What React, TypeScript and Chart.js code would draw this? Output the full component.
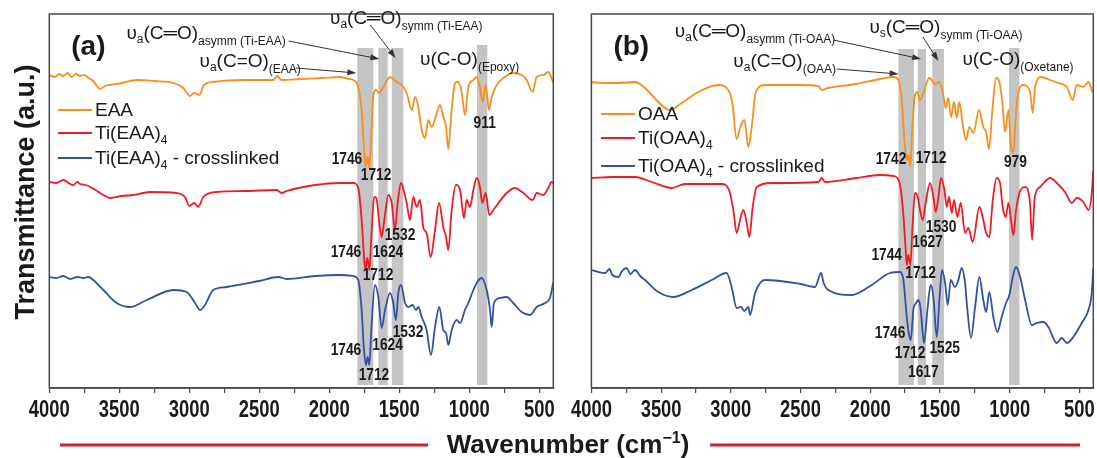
import { useEffect, useRef } from "react";
import { Chart, registerables } from "chart.js";

Chart.register(...registerables);

// ---------- data (wavenumber cm^-1, transmittance a.u. incl. vertical offset) ----------
const EAA: number[][] = [[4000,313],[3960,311],[3930,314],[3900,312],[3870,315],[3840,311],[3810,314],[3780,312],[3750,313],[3720,310],[3686,307],[3660,302],[3638,299],[3600,302],[3566,303],[3480,305],[3376,308],[3250,307],[3114,305],[3043,300],[2995,292],[2966,295],[2929,293],[2895,303],[2829,306],[2600,308],[2400,308],[2371,312],[2343,308],[2200,309],[2050,310],[1924,311],[1860,309],[1829,308],[1793,301],[1769,278],[1752,241],[1740,221],[1726,231],[1714,220],[1702,245],[1686,291],[1666,298],[1643,295],[1614,301],[1566,311],[1519,306],[1483,303],[1447,295],[1411,278],[1388,291],[1364,281],[1340,258],[1316,250],[1293,268],[1269,261],[1233,275],[1209,283],[1186,271],[1166,261],[1150,239],[1126,278],[1102,305],[1079,306],[1054,295],[1031,273],[1007,301],[971,308],[947,311],[924,301],[904,286],[883,303],[859,278],[840,291],[804,303],[757,310],[686,315],[626,313],[590,308],[547,296],[519,311],[471,313],[436,316],[400,305]];
const TI_EAA: number[][] = [[4000,206],[3950,205],[3900,208],[3850,204],[3829,203],[3800,206],[3780,204],[3740,203],[3709,201],[3670,198],[3638,195],[3600,192],[3566,190],[3480,192],[3400,193],[3281,196],[3090,195],[3031,191],[3000,182],[2966,185],[2936,181],[2900,191],[2804,196],[2600,197],[2376,198],[2340,195],[2304,197],[2100,203],[1924,205],[1829,205],[1793,200],[1769,168],[1752,131],[1743,118],[1728,130],[1714,118],[1700,151],[1680,191],[1664,190],[1643,165],[1626,151],[1607,168],[1578,193],[1554,185],[1531,158],[1512,185],[1488,205],[1464,195],[1447,185],[1424,168],[1400,191],[1376,181],[1352,188],[1328,160],[1305,155],[1276,131],[1245,158],[1216,185],[1186,161],[1166,151],[1150,138],[1126,178],[1095,203],[1066,198],[1038,170],[1019,188],[995,181],[971,198],[947,210],[924,201],[907,185],[883,195],[857,173],[828,178],[792,185],[733,195],[674,200],[614,195],[547,188],[519,195],[471,193],[436,200],[412,206],[400,205]];
const TI_EAA_X: number[][] = [[4000,111],[3950,110],[3900,112],[3850,109],[3800,111],[3757,110],[3720,111],[3686,108],[3614,98],[3519,85],[3424,81],[3304,88],[3114,98],[3019,96],[2959,85],[2924,78],[2888,83],[2829,98],[2733,101],[2500,107],[2364,111],[2304,109],[2100,112],[1924,113],[1829,112],[1793,108],[1769,78],[1752,38],[1738,23],[1726,31],[1714,23],[1700,58],[1674,103],[1650,91],[1626,60],[1602,78],[1566,95],[1543,85],[1524,68],[1507,95],[1488,103],[1459,85],[1436,81],[1405,83],[1381,78],[1364,81],[1340,71],[1305,58],[1274,33],[1245,61],[1214,81],[1186,58],[1166,55],[1150,43],[1126,58],[1090,68],[1066,65],[1031,78],[1007,85],[971,98],[943,106],[912,110],[876,98],[852,78],[840,61],[824,85],[781,90],[733,91],[686,85],[626,76],[566,73],[519,81],[459,85],[424,90],[400,106]];

const OAA: number[][] = [[4000,306],[3900,305],[3807,305],[3687,306],[3615,300],[3520,286],[3436,278],[3352,285],[3233,296],[3090,303],[3018,298],[2989,285],[2958,249],[2934,260],[2903,268],[2874,241],[2850,261],[2821,296],[2755,303],[2500,303],[2372,302],[2348,298],[2301,300],[2100,304],[1930,309],[1834,311],[1798,308],[1774,288],[1755,248],[1738,228],[1724,233],[1712,222],[1698,261],[1679,293],[1662,296],[1643,288],[1619,295],[1576,310],[1535,304],[1504,306],[1480,296],[1458,280],[1440,290],[1420,271],[1399,286],[1379,270],[1361,286],[1336,263],[1313,248],[1289,261],[1260,255],[1220,278],[1189,261],[1169,256],[1148,239],[1124,278],[1098,310],[1074,306],[1052,285],[1033,256],[1009,278],[990,241],[973,236],[954,275],[938,295],[902,303],[854,296],[834,275],[818,301],[775,311],[710,308],[651,305],[590,301],[547,288],[519,303],[471,301],[435,306],[404,295]];
const TI_OAA: number[][] = [[4000,210],[3850,211],[3687,211],[3567,206],[3424,200],[3329,204],[3065,204],[3013,198],[2982,178],[2958,155],[2934,168],[2910,178],[2886,165],[2867,151],[2843,181],[2814,201],[2707,205],[2372,206],[2348,210],[2324,206],[2100,210],[1930,213],[1834,212],[1791,206],[1767,181],[1750,148],[1738,123],[1727,133],[1712,123],[1698,158],[1679,195],[1659,191],[1643,178],[1623,168],[1607,181],[1571,205],[1547,191],[1530,176],[1511,191],[1492,210],[1468,198],[1451,181],[1435,191],[1415,175],[1399,188],[1375,171],[1351,185],[1320,155],[1296,160],[1265,146],[1217,181],[1189,168],[1169,155],[1146,151],[1121,188],[1093,210],[1069,205],[1050,181],[1028,171],[1009,185],[990,168],[973,153],[954,178],[930,195],[889,201],[854,185],[839,148],[820,191],[782,201],[710,210],[662,205],[603,196],[555,185],[519,190],[471,186],[435,178],[411,195],[400,218]];
const TI_OAA_X: number[][] = [[4000,118],[3950,116],[3902,115],[3870,119],[3850,113],[3807,111],[3780,117],[3747,120],[3720,114],[3687,118],[3650,112],[3615,108],[3520,96],[3412,91],[3280,98],[3137,108],[3030,115],[2994,101],[2958,80],[2927,81],[2903,77],[2874,81],[2862,73],[2826,95],[2755,108],[2500,104],[2396,101],[2353,115],[2334,105],[2301,98],[2133,93],[1990,103],[1858,115],[1786,116],[1762,108],[1738,71],[1724,55],[1709,48],[1691,78],[1671,85],[1652,88],[1638,78],[1614,45],[1590,78],[1566,103],[1547,91],[1523,51],[1504,88],[1485,118],[1463,105],[1444,83],[1423,108],[1392,101],[1368,108],[1344,120],[1320,105],[1303,78],[1277,50],[1248,81],[1217,111],[1189,88],[1169,76],[1146,96],[1117,71],[1088,56],[1057,71],[1026,85],[1002,93],[978,111],[954,121],[925,111],[889,88],[841,63],[806,65],[758,66],[722,61],[662,45],[626,50],[590,45],[543,51],[483,65],[435,78],[411,95],[400,120]];

const TICK_VALUES = [500, 750, 1000, 1250, 1500, 1750, 2000, 2250, 2500, 2750, 3000, 3250, 3500, 3750, 4000];
const TICK_LABELS = [4000, 3500, 3000, 2500, 2000, 1500, 1000, 500];

const BANDS_A = [[1800, 1686], [1650, 1583], [1554, 1471], [945, 871]];
const BAND_TOPS_A = [340, 340, 340, 343];
const BANDS_B = [[1798, 1686], [1659, 1600], [1555, 1471], [1004, 930]];
const BAND_TOPS_B = [339, 339, 339, 340];
const BAND_BOTTOM = 3;

const PEAKS_A = [
  { t: "1746", w: 1874, v: 228 }, { t: "1712", w: 1666, v: 212 }, { t: "911", w: 890, v: 264 },
  { t: "1746", w: 1881, v: 135 }, { t: "1624", w: 1581, v: 135 }, { t: "1532", w: 1495, v: 152 }, { t: "1712", w: 1652, v: 112 },
  { t: "1746", w: 1881, v: 37 }, { t: "1624", w: 1584, v: 42 }, { t: "1532", w: 1438, v: 55 }, { t: "1712", w: 1681, v: 12 },
];
const PEAKS_B = [
  { t: "1742", w: 1851, v: 228 }, { t: "1712", w: 1564, v: 229 }, { t: "979", w: 959, v: 225 },
  { t: "1530", w: 1492, v: 160 }, { t: "1627", w: 1589, v: 145 }, { t: "1744", w: 1882, v: 132 }, { t: "1712", w: 1639, v: 114 },
  { t: "1746", w: 1858, v: 54 }, { t: "1712", w: 1714, v: 34 }, { t: "1525", w: 1466, v: 39 }, { t: "1617", w: 1619, v: 15 },
];

type Seg = { t: string; size: number; bold?: boolean; dy?: number };
type Label = { w: number; v: number; segs: Seg[] };

const vib = (sub: string, bond: string, tail: string): Seg[] => [
  { t: "υ", size: 19 },
  ...(sub ? [{ t: sub, size: 12, dy: 4 }] : []),
  { t: bond, size: 19 },
  { t: tail, size: 12, dy: 6 },
];

const LABELS_A: Label[] = [
  { w: 3449, v: 349, segs: vib("a", "(C═O)", "asymm (Ti-EAA)") },
  { w: 1995, v: 364, segs: vib("a", "(C═O)", "symm (Ti-EAA)") },
  { w: 2927, v: 321, segs: vib("a", "(C=O)", "(EAA)") },
  { w: 1352, v: 323, segs: vib("", "(C-O)", "(Epoxy)") },
];
const LABELS_B: Label[] = [
  { w: 3402, v: 351, segs: vib("a", "(C═O)", "asymm (Ti-OAA)") },
  { w: 2006, v: 355, segs: vib("s", "(C═O)", "symm (Ti-OAA)") },
  { w: 2982, v: 321, segs: vib("a", "(C=O)", "(OAA)") },
  { w: 1339, v: 323, segs: vib("", "(C-O)", "(Oxetane)") },
];

const ARROWS_A = [
  [2238, 320, 1807, 315],
  [2291, 347, 1642, 329],
  [1706, 363, 1527, 330],
];
const ARROWS_B = [
  [2240, 319, 1796, 314],
  [2265, 348, 1635, 329],
  [1623, 351, 1511, 327],
];

const NAMES_A = ["EAA", "Ti(EAA)", "Ti(EAA)"];
const NAMES_B = ["OAA", "Ti(OAA)", "Ti(OAA)"];

// ---------- styles ----------
const SANS = "'Liberation Sans', Arial, sans-serif";
const COLORS = ["#F98E1D", "#EE1C25", "#3150A6"];
const BAND_COLOR = "#C4C4C4";
const INK = "#1a1a1a";
const FRAME = "#4a4a4a";

function segFont(s: Seg) {
  return `${s.bold ? "bold " : ""}${s.size}px ${SANS}`;
}
function drawRich(ctx: CanvasRenderingContext2D, segs: Seg[], x: number, y: number, align: "left" | "center" = "left") {
  ctx.textAlign = "left";
  ctx.textBaseline = "alphabetic";
  const widths = segs.map((s) => { ctx.font = segFont(s); return ctx.measureText(s.t).width; });
  const total = widths.reduce((a, b) => a + b, 0);
  let cx = align === "center" ? x - total / 2 : x;
  segs.forEach((s, i) => {
    ctx.font = segFont(s);
    ctx.fillText(s.t, cx, y + (s.dy || 0));
    cx += widths[i];
  });
}
// condensed bold text (narrow face look)
function drawNarrow(ctx: CanvasRenderingContext2D, t: string, x: number, y: number, size: number, sx: number, baseline: CanvasTextBaseline) {
  ctx.save();
  ctx.translate(x, y);
  ctx.scale(sx, 1);
  ctx.font = `bold ${size}px ${SANS}`;
  ctx.textAlign = "center";
  ctx.textBaseline = baseline;
  ctx.fillText(t, 0, 0);
  ctx.restore();
}

type Panel = {
  tag: string; series: number[][][]; names: string[]; bands: number[][]; bandTops: number[];
  peaks: { t: string; w: number; v: number }[]; labels: Label[]; arrows: number[][];
  padLeft: number; padRight: number; legendX: number; legendY: number[]; global?: boolean;
};

function panelPlugin(p: Panel) {
  return {
    id: "panel" + p.tag,
    beforeDatasetsDraw(chart: any) {
      const { ctx, scales: { x, y } } = chart;
      ctx.save();
      ctx.fillStyle = BAND_COLOR;
      p.bands.forEach(([w1, w2], i) => {
        const x1 = x.getPixelForValue(w1), x2 = x.getPixelForValue(w2);
        const yt = y.getPixelForValue(p.bandTops[i]), yb = y.getPixelForValue(BAND_BOTTOM);
        ctx.fillRect(Math.min(x1, x2), yt, Math.abs(x2 - x1), yb - yt);
      });
      ctx.restore();
    },
    afterDatasetsDraw(chart: any) {
      const { ctx, chartArea: a, scales: { x, y } } = chart;
      ctx.save();
      // frame
      ctx.strokeStyle = FRAME;
      ctx.lineWidth = 1.5;
      ctx.strokeRect(a.left, a.top, a.right - a.left, a.bottom - a.top);
      ctx.fillStyle = INK;
      // tick labels
      TICK_LABELS.forEach((v) => drawNarrow(ctx, String(v), x.getPixelForValue(v), a.bottom + 29, 23, 0.8, "alphabetic"));
      // panel tag
      ctx.font = `bold 28px ${SANS}`;
      ctx.textAlign = "left";
      ctx.textBaseline = "alphabetic";
      ctx.fillText(`(${p.tag})`, a.left + 22, a.top + 41);
      // vibration labels
      p.labels.forEach((l) => drawRich(ctx, l.segs, x.getPixelForValue(l.w), y.getPixelForValue(l.v)));
      // arrows
      ctx.strokeStyle = "#333";
      ctx.fillStyle = "#333";
      ctx.lineWidth = 1;
      p.arrows.forEach(([w1, v1, w2, v2]) => {
        const x1 = x.getPixelForValue(w1), y1 = y.getPixelForValue(v1);
        const x2 = x.getPixelForValue(w2), y2 = y.getPixelForValue(v2);
        const ang = Math.atan2(y2 - y1, x2 - x1);
        ctx.beginPath(); ctx.moveTo(x1, y1); ctx.lineTo(x2 - 6 * Math.cos(ang), y2 - 6 * Math.sin(ang)); ctx.stroke();
        ctx.beginPath();
        ctx.moveTo(x2, y2);
        ctx.lineTo(x2 - 9 * Math.cos(ang) + 3 * Math.sin(ang), y2 - 9 * Math.sin(ang) - 3 * Math.cos(ang));
        ctx.lineTo(x2 - 9 * Math.cos(ang) - 3 * Math.sin(ang), y2 - 9 * Math.sin(ang) + 3 * Math.cos(ang));
        ctx.closePath(); ctx.fill();
      });
      // peak numbers
      ctx.fillStyle = INK;
      p.peaks.forEach((pk) => drawNarrow(ctx, pk.t, x.getPixelForValue(pk.w), y.getPixelForValue(pk.v), 16, 0.86, "middle"));
      // legend
      p.names.forEach((name, i) => {
        const ly = p.legendY[i];
        ctx.strokeStyle = COLORS[i];
        ctx.lineWidth = 2;
        ctx.beginPath(); ctx.moveTo(p.legendX, ly); ctx.lineTo(p.legendX + 34, ly); ctx.stroke();
        ctx.fillStyle = INK;
        const segs: Seg[] = [{ t: name, size: 19 }];
        if (i > 0) segs.push({ t: "4", size: 12, dy: 5 });
        if (i === 2) segs.push({ t: " - crosslinked", size: 19 });
        drawRich(ctx, segs, p.legendX + 37, ly + 6);
      });
      ctx.restore();
    },
    afterDraw(chart: any) {
      if (!p.global) return;
      const { ctx } = chart;
      ctx.save();
      ctx.fillStyle = INK;
      ctx.translate(34, 192);
      ctx.rotate(-Math.PI / 2);
      ctx.font = `bold 27px ${SANS}`;
      ctx.textAlign = "center";
      ctx.textBaseline = "alphabetic";
      ctx.fillText("Transmittance (a.u.)", 0, 0);
      ctx.restore();
      ctx.save();
      ctx.fillStyle = INK;
      drawRich(ctx, [
        { t: "Wavenumber (cm", size: 26, bold: true },
        { t: "−1", size: 16, bold: true, dy: -10 },
        { t: ")", size: 26, bold: true },
      ], 568, 453, "center");
      ctx.strokeStyle = "#C9252C";
      ctx.lineWidth = 3;
      ctx.beginPath(); ctx.moveTo(60, 445); ctx.lineTo(428, 445); ctx.stroke();
      ctx.beginPath(); ctx.moveTo(710, 445); ctx.lineTo(1080, 445); ctx.stroke();
      ctx.restore();
    },
  };
}

function buildConfig(p: Panel): any {
  return {
    type: "line",
    data: {
      datasets: p.series.map((s, i) => ({
        data: s.map(([w, v]) => ({ x: w, y: v })),
        borderColor: COLORS[i],
        borderWidth: 1.8,
        pointRadius: 0,
        fill: false,
        cubicInterpolationMode: "monotone",
      })),
    },
    options: {
      animation: false,
      responsive: false,
      devicePixelRatio: 1,
      events: [],
      layout: { autoPadding: false, padding: { left: p.padLeft, right: p.padRight, top: 14, bottom: 40 } },
      plugins: { legend: { display: false }, tooltip: { enabled: false } },
      scales: {
        x: {
          type: "linear", min: 400, max: 4000, reverse: true,
          afterBuildTicks: (s: any) => { s.ticks = TICK_VALUES.map((v) => ({ value: v })); },
          afterFit: (s: any) => { s.height = 30; },
          ticks: { callback: () => "", maxRotation: 0, autoSkip: false },
          grid: { drawOnChartArea: false, drawTicks: true, tickLength: 5, color: FRAME, lineWidth: 1.2 },
          border: { display: true, color: FRAME, width: 1.5 },
        },
        y: { type: "linear", min: 0, max: 374, display: false },
      },
    },
    plugins: [panelPlugin(p)],
  };
}

const PANEL_A: Panel = {
  tag: "a", series: [EAA, TI_EAA, TI_EAA_X], names: NAMES_A, bands: BANDS_A, bandTops: BAND_TOPS_A,
  peaks: PEAKS_A, labels: LABELS_A, arrows: ARROWS_A, padLeft: 49.3, padRight: 1097 - 553.3,
  legendX: 58, legendY: [110, 133, 158], global: true,
};
const PANEL_B: Panel = {
  tag: "b", series: [OAA, TI_OAA, TI_OAA_X], names: NAMES_B, bands: BANDS_B, bandTops: BAND_TOPS_B,
  peaks: PEAKS_B, labels: LABELS_B, arrows: ARROWS_B, padLeft: 591.4, padRight: 1097 - 1093.3,
  legendX: 601, legendY: [114, 138, 166],
};

export default function App() {
  const refA = useRef<HTMLCanvasElement>(null);
  const refB = useRef<HTMLCanvasElement>(null);
  useEffect(() => {
    const ca = new Chart(refA.current!, buildConfig(PANEL_A));
    const cb = new Chart(refB.current!, buildConfig(PANEL_B));
    return () => { ca.destroy(); cb.destroy(); };
  }, []);
  const cs: any = { position: "absolute", left: 0, top: 0, width: 1097, height: 458 };
  return (
    <div style={{ position: "fixed", left: 0, top: 0, width: 1097, height: 458, background: "#fff" }}>
      <canvas ref={refA} width={1097} height={458} style={cs} />
      <canvas ref={refB} width={1097} height={458} style={cs} />
    </div>
  );
}
